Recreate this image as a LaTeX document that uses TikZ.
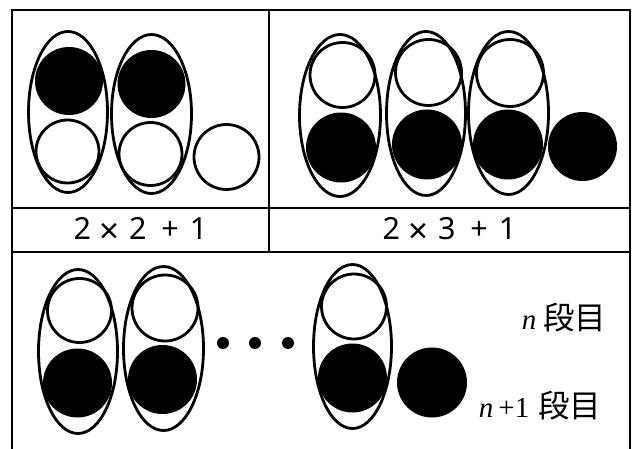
\documentclass[tikz,border=0pt]{standalone}
\usepackage{fontspec}
\setmainfont{Liberation Serif}
\newfontfamily\nsans{Noto Sans}
\newfontfamily\cjk{Noto Sans CJK JP}
\usetikzlibrary{shapes.geometric}
\newcommand{\bigtimes}{\raisebox{-4pt}{\bfseries\fontsize{35}{34}\selectfont ×}}
\begin{document}
\begin{tikzpicture}[x=1pt,y=-1pt,
  frame/.style={line width=2.6pt},
  ell/.style={ellipse,draw,line width=2.8pt,inner sep=0pt},
  wc/.style={circle,draw,fill=white,line width=2.8pt,inner sep=0pt},
  bc/.style={circle,fill=black,inner sep=0pt},
  dotc/.style={circle,fill=black,inner sep=0pt,minimum size=12pt},
  expr/.style={font=\nsans\fontsize{30.5}{34}\selectfont,inner sep=0pt},
  lab/.style={font=\fontsize{29}{34}\selectfont,inner sep=0pt,anchor=base east}]
\useasboundingbox (0,0) rectangle (632,449);
% frame
\coordinate (tl) at (12,10);
\coordinate (tr) at (630,10);
\coordinate (bl) at (12,449);
\coordinate (br) at (630,449);
\coordinate (ml) at (12,208);
\coordinate (mr) at (630,208);
\coordinate (ll) at (12,252);
\coordinate (lr) at (630,252);
\coordinate (vt) at (269,10);
\coordinate (vb) at (269,252);
\draw[frame,line cap=rect] (bl) -- (tl) -- (tr) -- (br);
\draw[frame] (ml) -- (mr);
\draw[frame] (ll) -- (lr);
\draw[frame] (vt) -- (vb);
% cell 1
\node[bc,minimum size=68pt] (a1b) at (69,81) {};
\node[wc,minimum size=63pt] (a1w) at (67.5,151.5) {};
\node[ell,minimum width=79pt,minimum height=161pt] (a1e) at (68,112) {};
\node[bc,minimum size=68pt] (a2b) at (151.5,84) {};
\node[wc,minimum size=63pt] (a2w) at (150.5,154) {};
\node[ell,minimum width=80pt,minimum height=159pt] (a2e) at (151.5,114) {};
\node[wc,minimum size=65pt] (a3w) at (226.5,157) {};
% cell 2
\node[wc,minimum size=65pt] (b1w) at (342.5,75) {};
\node[bc,minimum size=70pt] (b1b) at (341,147.5) {};
\node[ell,minimum width=81pt,minimum height=162pt] (b1e) at (340,115.5) {};
\node[wc,minimum size=66pt] (b2w) at (428.5,72.5) {};
\node[bc,minimum size=70pt] (b2b) at (427,144.5) {};
\node[ell,minimum width=79pt,minimum height=164pt] (b2e) at (426,113.5) {};
\node[wc,minimum size=67pt] (b3w) at (510,73) {};
\node[bc,minimum size=70pt] (b3b) at (508,144.5) {};
\node[ell,minimum width=80pt,minimum height=163pt] (b3e) at (508.5,113) {};
\node[bc,minimum size=69pt] (b4b) at (582.5,146.5) {};
% labels
\node[expr] (t1) at (140.5,230) {2\hspace{8pt}\bigtimes\hspace{10pt}2\hspace{15pt}+\hspace{11pt}1};
\node[expr] (t2) at (449.5,230) {2\hspace{8pt}\bigtimes\hspace{10pt}3\hspace{15pt}+\hspace{11pt}1};
% bottom
\node[wc,minimum size=64pt] (c1w) at (79.5,310.5) {};
\node[bc,minimum size=69pt] (c1b) at (77.5,383) {};
\node[ell,minimum width=79pt,minimum height=164pt] (c1e) at (78,351.5) {};
\node[wc,minimum size=66pt] (c2w) at (165,308) {};
\node[bc,minimum size=69pt] (c2b) at (162.5,379.5) {};
\node[ell,minimum width=80pt,minimum height=164pt] (c2e) at (163.5,348.5) {};
\node[dotc] (d1) at (223,343) {};
\node[dotc] (d2) at (255,343) {};
\node[dotc] (d3) at (288,343) {};
\node[wc,minimum size=65pt] (c3w) at (354,306.5) {};
\node[bc,minimum size=69pt] (c3b) at (352.5,378) {};
\node[ell,minimum width=78pt,minimum height=164pt] (c3e) at (352.5,346.5) {};
\node[bc,minimum size=70pt] (c4b) at (432,382.5) {};
\node[lab] (n1) at (606.5,329) {\textit{n}\hspace{7pt}{\cjk\fontsize{31.5}{34}\selectfont 段目}};
\node[lab] (n2) at (601.5,417) {\textit{n}\hspace{5pt}+1\hspace{9pt}{\cjk\fontsize{31.5}{34}\selectfont 段目}};
\end{tikzpicture}
\end{document}
